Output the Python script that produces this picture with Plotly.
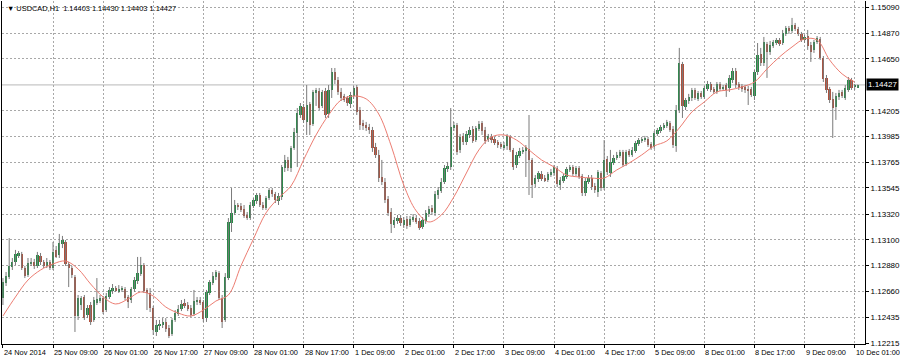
import plotly.graph_objects as go

# ---------------- data (USDCAD H1) ----------------
OPEN = [1.12601,1.12729,1.12781,1.12867,1.12910,1.12962,1.12979,1.12858,1.12798,1.12893,
1.12910,1.12876,1.12962,1.12910,1.12876,1.12910,1.12858,1.13013,1.12970,1.13064,
1.13081,1.12893,1.12858,1.12781,1.12447,1.12541,1.12610,1.12455,1.12541,1.12413,
1.12558,1.12575,1.12601,1.12498,1.12610,1.12661,1.12686,1.12661,1.12670,1.12678,
1.12610,1.12584,1.12678,1.12746,1.12807,1.12884,1.12670,1.12644,1.12515,1.12310,
1.12361,1.12370,1.12396,1.12344,1.12293,1.12413,1.12464,1.12507,1.12558,1.12541,
1.12515,1.12464,1.12567,1.12584,1.12567,1.12429,1.12644,1.12729,1.12781,1.12815,
1.12601,1.12413,1.12772,1.13244,1.13329,1.13398,1.13390,1.13364,1.13312,1.13287,
1.13390,1.13432,1.13484,1.13398,1.13372,1.13458,1.13527,1.13493,1.13432,1.13467,
1.13715,1.13784,1.13715,1.13887,1.14015,1.14169,1.14238,1.14110,1.14264,1.14093,
1.14358,1.14375,1.14247,1.14375,1.14178,1.14384,1.14538,1.14469,1.14367,1.14332,
1.14315,1.14264,1.14332,1.14410,1.14212,1.14101,1.14084,1.14067,1.14041,1.13895,
1.13827,1.13638,1.13595,1.13450,1.13338,1.13227,1.13261,1.13287,1.13227,1.13278,
1.13227,1.13270,1.13287,1.13261,1.13210,1.13261,1.13321,1.13372,1.13329,1.13484,
1.13518,1.13595,1.13707,1.13724,1.14058,1.14084,1.13870,1.13990,1.13938,1.13998,
1.14050,1.13955,1.14050,1.14101,1.14041,1.13955,1.13981,1.13964,1.13938,1.13921,
1.13887,1.13904,1.13981,1.13870,1.13741,1.13818,1.13853,1.13861,1.13878,1.13784,
1.13578,1.13621,1.13664,1.13629,1.13612,1.13655,1.13672,1.13715,1.13569,1.13604,
1.13638,1.13698,1.13724,1.13664,1.13715,1.13647,1.13501,1.13595,1.13629,1.13561,
1.13510,1.13672,1.13544,1.13792,1.13672,1.13758,1.13801,1.13818,1.13853,1.13750,
1.13861,1.13827,1.13861,1.13921,1.13947,1.13955,1.13964,1.13921,1.13895,1.14007,
1.14032,1.14058,1.14075,1.14101,1.14050,1.13904,1.14212,1.14607,1.14238,1.14289,
1.14315,1.14384,1.14307,1.14358,1.14324,1.14392,1.14435,1.14392,1.14367,1.14435,
1.14392,1.14426,1.14401,1.14469,1.14547,1.14435,1.14418,1.14410,1.14392,1.14392,
1.14332,1.14538,1.14692,1.14615,1.14778,1.14709,1.14761,1.14786,1.14812,1.14786,
1.14864,1.14915,1.14889,1.14941,1.14906,1.14864,1.14812,1.14846,1.14769,1.14727,
1.14795,1.14821,1.14658,1.14487,1.14392,1.14307,1.14238,1.14324,1.14367,1.14315,
1.14384,1.14469,1.14410,1.14403]

HIGH = [1.12772,1.12824,1.13115,1.12944,1.13013,1.13004,1.12996,1.12876,1.12944,1.12944,
1.12936,1.12996,1.12987,1.12927,1.12944,1.12927,1.13081,1.13047,1.13150,1.13133,
1.13098,1.12910,1.12876,1.12798,1.12627,1.12618,1.12627,1.12541,1.12567,1.12610,
1.12772,1.12627,1.12618,1.12644,1.12695,1.12721,1.12704,1.12712,1.12704,1.12695,
1.12627,1.12695,1.12781,1.12953,1.12953,1.12901,1.12686,1.12686,1.12532,1.12413,
1.12413,1.12429,1.12429,1.12370,1.12429,1.12498,1.12541,1.12584,1.12593,1.12567,
1.12541,1.12670,1.12610,1.12610,1.12584,1.12670,1.12755,1.12824,1.12841,1.12832,
1.12627,1.12815,1.13286,1.13543,1.13441,1.13415,1.13415,1.13398,1.13338,1.13424,
1.13458,1.13501,1.13501,1.13424,1.13475,1.13544,1.13544,1.13510,1.13501,1.13741,
1.13827,1.13810,1.13904,1.14058,1.14229,1.14272,1.14264,1.14426,1.14281,1.14384,
1.14401,1.14401,1.14384,1.14401,1.14426,1.14572,1.14572,1.14495,1.14401,1.14350,
1.14332,1.14367,1.14418,1.14426,1.14238,1.14127,1.14110,1.14093,1.14067,1.13930,
1.13870,1.13784,1.13629,1.13475,1.13372,1.13295,1.13312,1.13312,1.13295,1.13304,
1.13304,1.13321,1.13312,1.13287,1.13295,1.13355,1.13390,1.13398,1.13518,1.13552,
1.13629,1.13741,1.13767,1.14229,1.14110,1.14101,1.14007,1.14015,1.14032,1.14067,
1.14075,1.14075,1.14118,1.14118,1.14067,1.14007,1.14007,1.13981,1.13955,1.13938,
1.13938,1.14007,1.13998,1.13887,1.13853,1.13887,1.13895,1.13912,1.14169,1.13801,
1.13655,1.13689,1.13689,1.13655,1.13681,1.13707,1.13741,1.13732,1.13638,1.13664,
1.13724,1.13741,1.13741,1.13732,1.13732,1.13664,1.13629,1.13655,1.13655,1.13587,
1.13698,1.13689,1.13955,1.13818,1.13870,1.13827,1.13853,1.13870,1.13870,1.13870,
1.13878,1.13895,1.13947,1.13972,1.13981,1.13990,1.13981,1.13938,1.14032,1.14058,
1.14084,1.14101,1.14127,1.14118,1.14075,1.14255,1.14744,1.14624,1.14315,1.14350,
1.14401,1.14401,1.14375,1.14375,1.14418,1.14461,1.14452,1.14410,1.14452,1.14452,
1.14426,1.14444,1.14512,1.14572,1.14572,1.14452,1.14435,1.14426,1.14418,1.14410,
1.14555,1.14786,1.14744,1.14838,1.14795,1.14804,1.14812,1.14829,1.14829,1.14898,
1.14932,1.14932,1.15001,1.14958,1.14924,1.14881,1.14855,1.14898,1.14795,1.14812,
1.14846,1.14838,1.14675,1.14512,1.14410,1.14367,1.14358,1.14384,1.14384,1.14426,
1.14495,1.14487,1.14435,1.14430]

LOW = [1.12541,1.12704,1.12764,1.12841,1.12884,1.12944,1.12841,1.12772,1.12781,1.12876,
1.12850,1.12858,1.12884,1.12858,1.12858,1.12841,1.12841,1.12944,1.12944,1.13029,
1.12876,1.12695,1.12772,1.12310,1.12413,1.12498,1.12413,1.12429,1.12370,1.12396,
1.12541,1.12558,1.12464,1.12481,1.12593,1.12636,1.12653,1.12644,1.12653,1.12584,
1.12515,1.12558,1.12653,1.12721,1.12790,1.12644,1.12498,1.12481,1.12284,1.12276,
1.12327,1.12344,1.12310,1.12258,1.12276,1.12396,1.12447,1.12489,1.12515,1.12489,
1.12438,1.12447,1.12541,1.12541,1.12396,1.12396,1.12627,1.12712,1.12755,1.12584,
1.12344,1.12396,1.12755,1.13167,1.13312,1.13355,1.13338,1.13287,1.13270,1.13270,
1.13372,1.13407,1.13381,1.13355,1.13355,1.13441,1.13467,1.13415,1.13398,1.13441,
1.13681,1.13689,1.13681,1.13870,1.13724,1.14144,1.14101,1.13998,1.13998,1.14075,
1.14247,1.14212,1.14229,1.14144,1.14144,1.14315,1.14435,1.14341,1.14289,1.14281,
1.14247,1.14229,1.14307,1.14169,1.14041,1.14041,1.14032,1.14007,1.13853,1.13801,
1.13595,1.13569,1.13415,1.13304,1.13158,1.13201,1.13236,1.13218,1.13201,1.13193,
1.13210,1.13253,1.13236,1.13184,1.13193,1.13236,1.13295,1.13312,1.13304,1.13450,
1.13501,1.13578,1.13681,1.13698,1.14032,1.13827,1.13844,1.13912,1.13912,1.13972,
1.13930,1.13938,1.14032,1.13998,1.13921,1.13938,1.13930,1.13912,1.13887,1.13878,
1.13870,1.13870,1.13853,1.13698,1.13715,1.13801,1.13835,1.13638,1.13484,1.13458,
1.13552,1.13595,1.13604,1.13595,1.13595,1.13638,1.13647,1.13552,1.13527,1.13587,
1.13621,1.13681,1.13647,1.13647,1.13621,1.13475,1.13475,1.13578,1.13527,1.13501,
1.13467,1.13518,1.13527,1.13655,1.13638,1.13741,1.13784,1.13801,1.13724,1.13732,
1.13810,1.13810,1.13844,1.13904,1.13930,1.13938,1.13895,1.13870,1.13878,1.13990,
1.14015,1.14041,1.14058,1.14024,1.13887,1.13853,1.14186,1.14144,1.14212,1.14264,
1.14289,1.14298,1.14289,1.14307,1.14307,1.14375,1.14367,1.14350,1.14350,1.14375,
1.14375,1.14324,1.14367,1.14444,1.14401,1.14384,1.14367,1.14358,1.14255,1.14324,
1.14298,1.14512,1.14589,1.14589,1.14487,1.14684,1.14744,1.14769,1.14761,1.14769,
1.14846,1.14864,1.14872,1.14889,1.14846,1.14795,1.14786,1.14727,1.14624,1.14701,
1.14778,1.14641,1.14452,1.14358,1.14272,1.13972,1.14127,1.14298,1.14315,1.14298,
1.14367,1.14384,1.14384,1.14403]

CLOSE = [1.12738,1.12790,1.12876,1.12910,1.12979,1.12987,1.12858,1.12790,1.12901,1.12910,
1.12876,1.12970,1.12910,1.12876,1.12910,1.12858,1.12996,1.12953,1.13072,1.13098,
1.12893,1.12858,1.12798,1.12447,1.12601,1.12601,1.12429,1.12515,1.12396,1.12584,
1.12593,1.12601,1.12481,1.12618,1.12670,1.12686,1.12661,1.12678,1.12686,1.12601,
1.12567,1.12678,1.12755,1.12815,1.12884,1.12661,1.12644,1.12515,1.12327,1.12370,
1.12379,1.12396,1.12336,1.12276,1.12413,1.12472,1.12507,1.12550,1.12541,1.12507,
1.12455,1.12575,1.12584,1.12558,1.12421,1.12653,1.12738,1.12790,1.12824,1.12601,
1.12396,1.12781,1.13253,1.13329,1.13398,1.13381,1.13355,1.13304,1.13287,1.13398,
1.13441,1.13484,1.13398,1.13372,1.13458,1.13527,1.13493,1.13441,1.13475,1.13724,
1.13784,1.13715,1.13887,1.14024,1.14186,1.14247,1.14127,1.14255,1.14084,1.14367,
1.14384,1.14229,1.14367,1.14169,1.14384,1.14538,1.14469,1.14367,1.14315,1.14298,
1.14272,1.14341,1.14401,1.14195,1.14084,1.14075,1.14058,1.14041,1.13887,1.13827,
1.13629,1.13595,1.13441,1.13330,1.13236,1.13270,1.13287,1.13244,1.13270,1.13218,
1.13278,1.13295,1.13253,1.13201,1.13270,1.13329,1.13364,1.13338,1.13493,1.13527,
1.13595,1.13715,1.13732,1.14067,1.14084,1.13853,1.13981,1.13938,1.14007,1.14041,
1.13947,1.14058,1.14093,1.14032,1.13947,1.13990,1.13955,1.13930,1.13912,1.13895,
1.13912,1.13990,1.13870,1.13724,1.13827,1.13861,1.13870,1.13895,1.13784,1.13569,
1.13629,1.13672,1.13621,1.13612,1.13664,1.13681,1.13724,1.13578,1.13612,1.13647,
1.13707,1.13724,1.13664,1.13715,1.13638,1.13501,1.13604,1.13629,1.13552,1.13527,
1.13681,1.13544,1.13784,1.13681,1.13767,1.13801,1.13827,1.13853,1.13741,1.13853,
1.13827,1.13870,1.13930,1.13955,1.13964,1.13972,1.13912,1.13887,1.14015,1.14041,
1.14067,1.14084,1.14110,1.14041,1.13912,1.14212,1.14615,1.14247,1.14298,1.14324,
1.14384,1.14315,1.14358,1.14324,1.14401,1.14435,1.14384,1.14367,1.14435,1.14392,
1.14410,1.14384,1.14487,1.14547,1.14426,1.14401,1.14392,1.14384,1.14375,1.14341,
1.14538,1.14684,1.14615,1.14795,1.14709,1.14769,1.14795,1.14812,1.14778,1.14872,
1.14915,1.14889,1.14941,1.14906,1.14864,1.14812,1.14838,1.14761,1.14709,1.14795,
1.14829,1.14658,1.14478,1.14384,1.14298,1.14229,1.14332,1.14358,1.14332,1.14401,
1.14469,1.14401,1.14426,1.14427]

# moving average line (read every 4 bars)
MA_BARS = list(range(0, 273, 4))
MA_VALUES = [1.12447,1.12610,1.12755,1.12841,1.12893,1.12918,1.12850,1.12721,1.12610,1.12550,
1.12593,1.12653,1.12618,1.12524,1.12472,1.12447,1.12498,1.12575,1.12627,1.12876,
1.13107,1.13330,1.13458,1.13561,1.13784,1.13998,1.14169,1.14298,1.14332,1.14307,
1.14178,1.13904,1.13569,1.13347,1.13253,1.13312,1.13467,1.13672,1.13870,1.13981,
1.13998,1.13955,1.13870,1.13784,1.13724,1.13655,1.13638,1.13629,1.13629,1.13698,
1.13758,1.13827,1.13904,1.13947,1.14058,1.14195,1.14281,1.14367,1.14384,1.14410,
1.14452,1.14564,1.14667,1.14752,1.14821,1.14812,1.14641,1.14521,1.14452]

X_TICK_BARS = list(range(0, 273, 16))
X_TICK_LABELS = ["24 Nov 2014", "25 Nov 09:00", "26 Nov 01:00", "26 Nov 17:00",
                 "27 Nov 09:00", "28 Nov 01:00", "28 Nov 17:00", "1 Dec 09:00",
                 "2 Dec 01:00", "2 Dec 17:00", "3 Dec 09:00", "4 Dec 01:00",
                 "4 Dec 17:00", "5 Dec 09:00", "8 Dec 01:00", "8 Dec 17:00",
                 "9 Dec 09:00", "10 Dec 01:00"]
Y_TICK_VALUES = [1.15090, 1.14870, 1.14650, 1.14205, 1.13985, 1.13765, 1.13545,
                 1.13320, 1.13100, 1.12880, 1.12660, 1.12435, 1.12215]
CURRENT_PRICE = 1.14427
SYMBOL_TEXT = "\u25BC USDCAD,H1  1.14403 1.14430 1.14403 1.14427"

# ---------------- styles ----------------
UP_COLOR = "#238b45"
DOWN_COLOR = "#b0503c"
WICK_COLOR = "#7a7a7a"
MA_COLOR = "#ec7d72"
GRID_COLOR = "#a8a8a8"
FONT = "Liberation Sans"

n = len(CLOSE)
idx = list(range(n))

wx, wy = [], []
for i in idx:
    wx += [i, i, None]
    wy += [LOW[i], HIGH[i], None]

body_base = [min(o, c) for o, c in zip(OPEN, CLOSE)]
body_h = [max(abs(c - o), 0.00002) for o, c in zip(OPEN, CLOSE)]
body_col = [UP_COLOR if c >= o else DOWN_COLOR for o, c in zip(OPEN, CLOSE)]

fig = go.Figure()
fig.add_trace(go.Scatter(x=wx, y=wy, mode="lines",
                         line=dict(color=WICK_COLOR, width=1), hoverinfo="skip"))
fig.add_trace(go.Bar(x=idx, y=body_h, base=body_base, width=0.72,
                     marker=dict(color=body_col, line=dict(width=0))))
fig.add_trace(go.Scatter(x=MA_BARS, y=MA_VALUES, mode="lines",
                         line=dict(color=MA_COLOR, width=1, shape="spline")))

fig.add_shape(type="line", xref="paper", x0=0, x1=1, yref="y",
              y0=CURRENT_PRICE, y1=CURRENT_PRICE,
              line=dict(color="#b8b8b8", width=1), layer="below")

annotations = []
for b, lab in zip(X_TICK_BARS, X_TICK_LABELS):
    annotations.append(dict(x=b, y=0, xref="x", yref="paper", text=lab,
                            showarrow=False, xanchor="left", yanchor="top",
                            xshift=-1, yshift=-2,
                            font=dict(family=FONT, size=7.4, color="#000000")))
annotations.append(dict(x=1, y=CURRENT_PRICE, xref="paper", yref="y",
                        text=f"{CURRENT_PRICE:.5f}", showarrow=False,
                        xanchor="left", yanchor="middle", xshift=1,
                        bgcolor="#000000", borderpad=1,
                        font=dict(family=FONT, size=8, color="#ffffff")))
annotations.append(dict(x=0, y=1, xref="paper", yref="paper", text=SYMBOL_TEXT,
                        showarrow=False, xanchor="left", yanchor="top",
                        xshift=3, yshift=-1,
                        font=dict(family=FONT, size=7.4, color="#000000")))

fig.update_layout(
    width=900, height=359,
    margin=dict(l=2, r=35, t=1, b=15),
    paper_bgcolor="white", plot_bgcolor="white",
    showlegend=False, bargap=0,
    annotations=annotations,
    xaxis=dict(range=[-0.3, 275.3], tickvals=X_TICK_BARS, showticklabels=False,
               ticks="outside", ticklen=3, tickcolor="#000000",
               showgrid=True, gridcolor=GRID_COLOR, griddash="2px,2px", gridwidth=1,
               showline=True, linecolor="#000000", linewidth=1,
               zeroline=False, fixedrange=True),
    yaxis=dict(range=[1.12207, 1.15146], side="right",
               tickvals=Y_TICK_VALUES,
               ticktext=[f"{v:.5f}" for v in Y_TICK_VALUES],
               ticks="outside", ticklen=3, tickcolor="#000000",
               tickfont=dict(family=FONT, size=8, color="#000000"),
               showgrid=True, gridcolor=GRID_COLOR, griddash="2px,2px", gridwidth=1,
               showline=True, mirror=True, linecolor="#000000", linewidth=1,
               zeroline=False, fixedrange=True),
)

fig.write_html("out.html")
